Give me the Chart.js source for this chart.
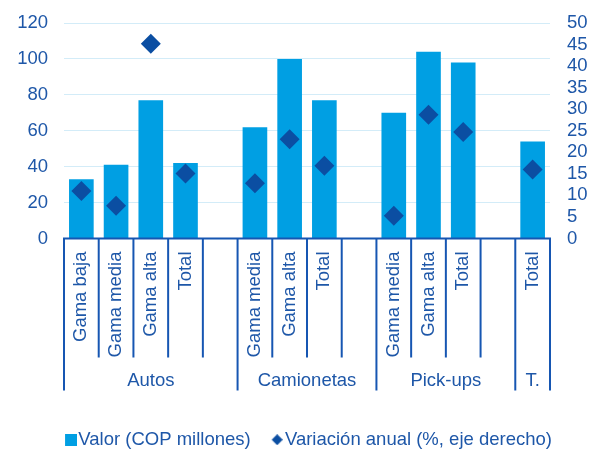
<!DOCTYPE html>
<html>
<head>
<meta charset="utf-8">
<script src="https://cdn.jsdelivr.net/npm/chart.js@4"></script>
<style>
html,body{margin:0;padding:0;background:#fff;}
#wrap{width:597px;height:456px;position:relative;}
</style>
</head>
<body>
<div id="wrap"><canvas id="c" width="597" height="456"></canvas></div>
<script>
// ---- data ----
const subLabels = ['Gama baja','Gama media','Gama alta','Total','',
                   'Gama media','Gama alta','Total','',
                   'Gama media','Gama alta','Total','',
                   'Total'];
const groupNames = ['Autos','Camionetas','Pick-ups','T.'];
const groupSizes = [5,4,4,1];
const valor     = [33, 41, 77, 42, null, 62, 100, 77, null, 70, 104, 98, null, 54];
const variacion = [11, 7.6, 45.2, 15.1, null, 12.8, 23, 16.9, null, 5.3, 28.7, 24.7, null, 16];
const leftTicks  = [0,20,40,60,80,100,120];
const rightTicks = [0,5,10,15,20,25,30,35,40,45,50];
const seriesNames = ['Valor (COP millones)','Variación anual (%, eje derecho)'];

// ---- styles ----
const BAR = '#009FE3';
const DIAM = '#0B4EA2';
const TEXT = '#1E57A8';
const LINE = '#1656B2';
const GRID = '#D3ECF8';
const FONT = '"Liberation Sans", Arial, sans-serif';
const FS = 18.5;

function iconSquare(){ const c=document.createElement('canvas'); c.width=40;c.height=12; const g=c.getContext('2d'); g.fillStyle=BAR; g.fillRect(28,0,12,12); return c; }
function iconDiamond(){ const c=document.createElement('canvas'); c.width=38;c.height=11; const g=c.getContext('2d'); g.fillStyle=DIAM; g.beginPath(); g.moveTo(32.5,0);g.lineTo(38,5.5);g.lineTo(32.5,11);g.lineTo(27,5.5);g.closePath();g.fill(); return c; }

const axisDecor = {
  id: 'axisDecor',
  afterDatasetsDraw(chart) {
    const x = chart.scales.x, ctx = chart.ctx;
    const y0 = chart.chartArea.bottom;
    ctx.save();
    ctx.strokeStyle = LINE; ctx.lineWidth = 2;
    const bounds = []; let acc = 0;
    groupSizes.forEach(s => { bounds.push(acc); acc += s; }); bounds.push(acc);
    ctx.beginPath();
    ctx.moveTo(x.getPixelForValue(-0.5) - 1, y0);
    ctx.lineTo(x.getPixelForValue(subLabels.length - 0.5) + 1, y0);
    ctx.stroke();
    for (let i = 0; i <= subLabels.length; i++) {
      const px = x.getPixelForValue(i - 0.5);
      const long = bounds.includes(i);
      ctx.beginPath(); ctx.moveTo(px, y0); ctx.lineTo(px, y0 + (long ? 152 : 119)); ctx.stroke();
    }
    ctx.fillStyle = TEXT; ctx.font = FS + 'px ' + FONT; ctx.textAlign = 'center'; ctx.textBaseline = 'middle';
    for (let g = 0; g < groupNames.length; g++) {
      const a = x.getPixelForValue(bounds[g] - 0.5), b = x.getPixelForValue(bounds[g+1] - 0.5);
      ctx.fillText(groupNames[g], (a + b) / 2, y0 + 142);
    }
    ctx.restore();
  }
};

new Chart(document.getElementById('c'), {
  data: {
    labels: subLabels,
    datasets: [
      { type: 'bar', label: seriesNames[0], data: valor, backgroundColor: BAR, yAxisID: 'y',
        barPercentage: 0.71, categoryPercentage: 1.0, order: 2 },
      { type: 'line', label: seriesNames[1], data: variacion, yAxisID: 'y1', showLine: false,
        pointStyle: 'rectRot', pointRadius: 10, pointBackgroundColor: DIAM, pointBorderColor: DIAM,
        pointBorderWidth: 0, order: 1 }
    ]
  },
  options: {
    responsive: false,
    animation: false,
    events: [],
    layout: { padding: { top: 23, left: 0, right: 0, bottom: -3 } },
    plugins: {
      tooltip: { enabled: false },
      legend: {
        position: 'bottom',
        labels: {
          usePointStyle: true, pointStyleWidth: 24, boxWidth: 24, boxHeight: 12, padding: 1,
          color: TEXT, font: { size: FS, family: FONT },
          generateLabels: () => [
            { text: seriesNames[0], pointStyle: iconSquare(), fillStyle: BAR, strokeStyle: BAR, lineWidth: 0, hidden: false, datasetIndex: 0, fontColor: TEXT },
            { text: seriesNames[1], pointStyle: iconDiamond(), fillStyle: DIAM, strokeStyle: DIAM, lineWidth: 0, hidden: false, datasetIndex: 1, fontColor: TEXT }
          ]
        }
      }
    },
    scales: {
      x: {
        type: 'category',
        offset: true,
        grid: { display: false, drawTicks: false },
        border: { display: false },
        ticks: { color: TEXT, font: { size: FS, family: FONT }, minRotation: 90, maxRotation: 90, padding: 13, autoSkip: false },
        afterFit: s => { s.height = 191; }
      },
      y: {
        position: 'left', min: 0, max: 120,
        grid: { color: GRID, lineWidth: 1, drawTicks: false },
        border: { display: false },
        ticks: { color: TEXT, font: { size: FS, family: FONT }, padding: 16, autoSkip: false,
                 callback: (v) => leftTicks.includes(v) ? String(v) : null, stepSize: 20 },
        afterFit: s => { s.width = 64; s.paddingTop = 0; s.paddingBottom = 0; }
      },
      y1: {
        position: 'right', min: 0, max: 50,
        grid: { display: false, drawTicks: false },
        border: { display: false },
        ticks: { color: TEXT, font: { size: FS, family: FONT }, padding: 17, autoSkip: false,
                 callback: (v) => rightTicks.includes(v) ? String(v) : null, stepSize: 5 },
        afterFit: s => { s.width = 47; s.paddingTop = 0; s.paddingBottom = 0; }
      }
    }
  },
  plugins: [axisDecor]
});
</script>
</body>
</html>
